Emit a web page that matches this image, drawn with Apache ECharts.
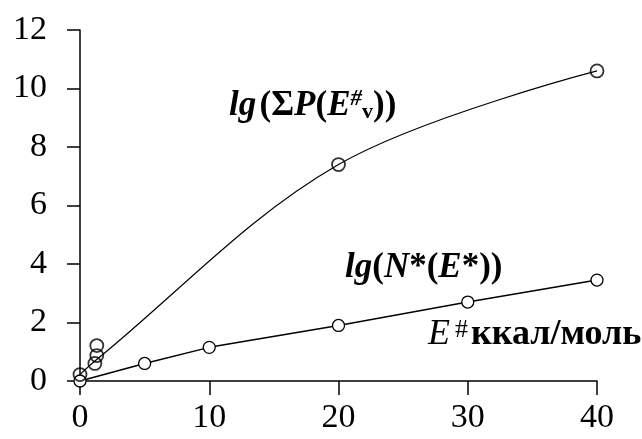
<!DOCTYPE html>
<html>
<head>
<meta charset="utf-8">
<script src="https://cdn.jsdelivr.net/npm/echarts@6/dist/echarts.min.js"></script>
<style>html,body{margin:0;padding:0;background:#fff;}#c{width:642px;height:439px;}</style>
</head>
<body>
<div id="c"></div>
<script>
// Data
const upperCurveX = [0, 1.2, 20, 40];
const upperCurveY = [0.22, 0.7, 7.4, 10.6];
const upperMarkX = [0, 1.15, 1.3, 1.3, 20, 40];
const upperMarkY = [0.22, 0.6, 0.87, 1.21, 7.4, 10.6];
const lowerX = [0, 5, 10, 20, 30, 40];
const lowerY = [0.0, 0.6, 1.15, 1.9, 2.7, 3.45];
const xTicks = [0, 10, 20, 30, 40];
const yTicks = [0, 2, 4, 6, 8, 10, 12];

const upperCurve = upperCurveX.map((x, i) => [x, upperCurveY[i]]);
const upperMarks = upperMarkX.map((x, i) => [x, upperMarkY[i]]);
const lower = lowerX.map((x, i) => [x, lowerY[i]]);

const chart = echarts.init(document.getElementById('c'), null, {renderer: 'canvas'});
const serif = 'Liberation Serif';
chart.setOption({
  backgroundColor: '#fff',
  animation: false,
  grid: {left: 80, right: 45, top: 30, bottom: 58, containLabel: false},
  xAxis: {
    type: 'value', min: xTicks[0], max: xTicks[xTicks.length - 1], interval: 10,
    axisLine: {show: true, onZero: true, lineStyle: {color: '#000', width: 1.5}},
    axisTick: {show: true, inside: false, length: 14, lineStyle: {color: '#000', width: 1.5}},
    axisLabel: {color: '#000', fontFamily: serif, fontSize: 34, margin: 20},
    splitLine: {show: false}
  },
  yAxis: {
    type: 'value', min: yTicks[0], max: yTicks[yTicks.length - 1], interval: 2,
    axisLine: {show: true, lineStyle: {color: '#000', width: 1.5}},
    axisTick: {show: true, inside: false, length: 13, lineStyle: {color: '#000', width: 1.5}},
    axisLabel: {color: '#000', fontFamily: serif, fontSize: 34, margin: 33},
    splitLine: {show: false}
  },
  series: [
    {
      type: 'line', data: upperCurve, smooth: 0.35, showSymbol: false, symbol: 'none',
      lineStyle: {color: '#000', width: 1.2}, z: 2
    },
    {
      type: 'scatter', data: upperMarks, symbol: 'circle', symbolSize: 13,
      itemStyle: {color: 'rgba(0,0,0,0)', borderColor: '#000', borderWidth: 1.8}, z: 3
    },
    {
      type: 'line', data: lower, smooth: false,
      symbol: 'circle', symbolSize: 12,
      lineStyle: {color: '#000', width: 1.5},
      itemStyle: {color: '#fff', borderColor: '#000', borderWidth: 1.3}, z: 2
    }
  ],
  graphic: [
    {
      type: 'text', left: 229, top: 88,
      style: {
        text: '{bi|lg} {b|(Σ}{bi|P}{b|(}{bi|E}{sup|#}{sub|v}{b|))}',
        rich: {
          bi: {fontFamily: serif, fontWeight: 'bold', fontStyle: 'italic', fontSize: 35, fill: '#000'},
          b: {fontFamily: serif, fontWeight: 'bold', fontSize: 35, fill: '#000'},
          sup: {fontFamily: serif, fontWeight: 'bold', fontStyle: 'italic', fontSize: 23, fill: '#000', verticalAlign: 'top'},
          sub: {fontFamily: serif, fontWeight: 'bold', fontSize: 22, fill: '#000', verticalAlign: 'bottom'}
        }
      }
    },
    {
      type: 'text', left: 345, top: 250,
      style: {
        text: '{bi|lg}{b|(}{bi|N}{b|*(}{bi|E}{b|*))}',
        rich: {
          bi: {fontFamily: serif, fontWeight: 'bold', fontStyle: 'italic', fontSize: 35, fill: '#000'},
          b: {fontFamily: serif, fontWeight: 'bold', fontSize: 35, fill: '#000'}
        }
      }
    },
    {
      type: 'text', left: 428, top: 317,
      style: {
        text: '{i|E}{sup|#}{b|ккал/моль}',
        rich: {
          i: {fontFamily: serif, fontStyle: 'italic', fontSize: 36, fill: '#000'},
          sup: {fontFamily: serif, fontSize: 26, fill: '#000', verticalAlign: 'top', padding: [0, 3, 0, 5]},
          b: {fontFamily: serif, fontWeight: 'bold', fontSize: 36, fill: '#000'}
        }
      }
    }
  ]
});
</script>
</body>
</html>
